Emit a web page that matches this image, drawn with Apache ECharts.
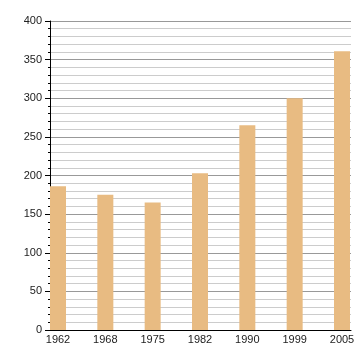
<!DOCTYPE html>
<html><head><meta charset="utf-8">
<script src="https://cdn.jsdelivr.net/npm/echarts@6/dist/echarts.min.js"></script>
<style>html,body{margin:0;padding:0;background:#fff}#c{width:360px;height:360px}</style>
</head><body><div id="c"></div>
<script>
var categories = ['1962','1968','1975','1982','1990','1999','2005'];
var values = [186, 175, 165, 203, 265, 300, 361];
var yTicks = [0, 50, 100, 150, 200, 250, 300, 350, 400];

var chart = echarts.init(document.getElementById('c'), null, {renderer:'canvas'});
var font = 'Liberation Sans, Arial, sans-serif';
chart.setOption({
  animation: false,
  grid: [
    {left: 50, right: 9, top: 21, bottom: 30},
    {left: 58, right: 18, top: 21, bottom: 30}
  ],
  xAxis: [
    {type:'value', gridIndex:0, min:0, max:1, show:true,
     axisLine:{show:true, onZero:false, lineStyle:{color:'#000', width:1}},
     axisTick:{show:false}, axisLabel:{show:false}, splitLine:{show:false}},
    {type:'category', gridIndex:1, data: categories, boundaryGap:false,
     axisLine:{show:false}, axisTick:{show:false},
     axisLabel:{color:'#222', fontSize:11, fontFamily:font, margin:4}}
  ],
  yAxis: [
    {type:'value', gridIndex:0, min:yTicks[0], max:yTicks[yTicks.length-1], interval:50,
     axisLine:{show:true, lineStyle:{color:'#000', width:1}},
     axisTick:{show:true, length:5, lineStyle:{color:'#000'}},
     minorTick:{show:true, splitNumber:5, length:2, lineStyle:{color:'#000'}},
     splitLine:{show:true, lineStyle:{color:'#999', width:1}},
     minorSplitLine:{show:true, lineStyle:{color:'#ccc', width:1}},
     axisLabel:{color:'#222', fontSize:11, fontFamily:font, margin:8}},
    {type:'value', gridIndex:1, min:0, max:400, show:false, splitLine:{show:false}}
  ],
  series: [{
    type:'bar', xAxisIndex:1, yAxisIndex:1, data: values, barWidth:16,
    itemStyle:{color:'#e8bb82'}
  }]
});
</script></body></html>
